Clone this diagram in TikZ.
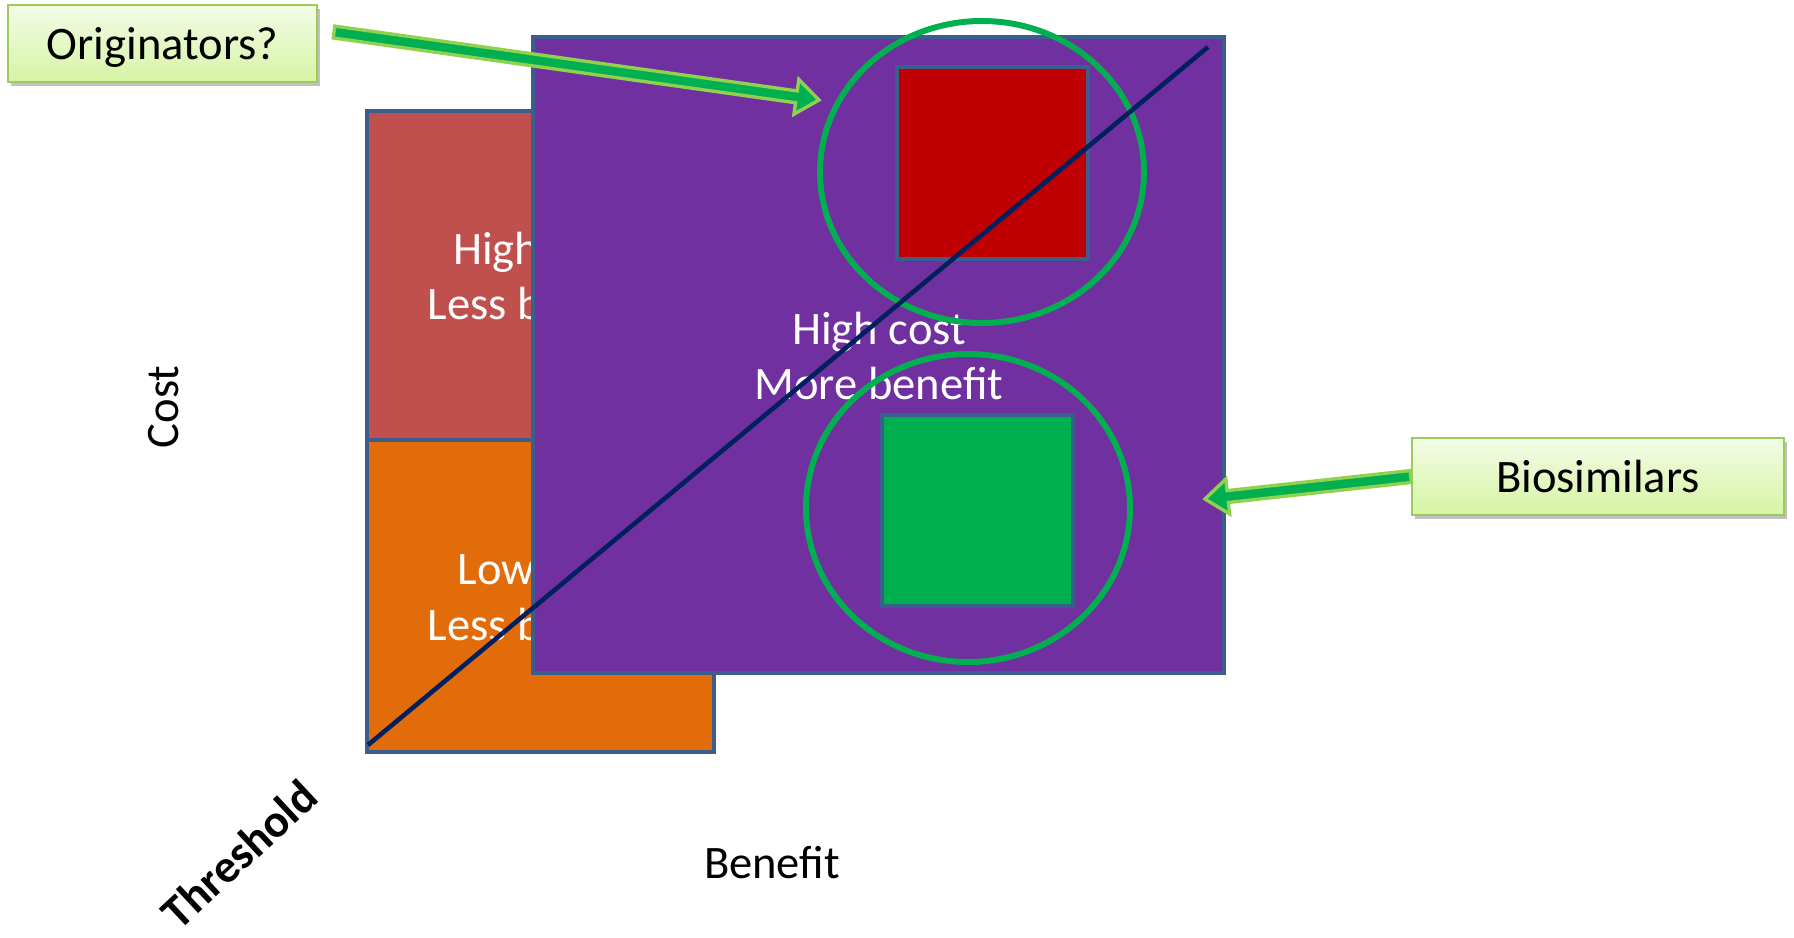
\documentclass[tikz,border=0pt]{standalone}
\usepackage{fontspec}
\setmainfont{Carlito}
\usetikzlibrary{calc,shadows}
\definecolor{boxedge}{HTML}{3B5E8C}
\definecolor{redbox}{HTML}{C0504D}
\definecolor{orangebox}{HTML}{E36C0A}
\definecolor{purplebox}{HTML}{7030A0}
\definecolor{redsq}{HTML}{C00000}
\definecolor{greensq}{HTML}{00B050}
\definecolor{ringgreen}{HTML}{00B050}
\definecolor{navy}{HTML}{002060}
\definecolor{calltop}{HTML}{F2FCE6}
\definecolor{callbot}{HTML}{D6F4A4}
\definecolor{calledge}{HTML}{9CCB5C}
\definecolor{arrowedge}{HTML}{92D050}
\definecolor{arrowfill}{HTML}{00B050}
\tikzset{
  region/.style={draw=boxedge, line width=2.6pt},
  bigtext/.style={font=\fontsize{26.5}{31.8}\selectfont, align=center},
  callout/.style={draw=calledge, line width=1.4pt, top color=calltop, bottom color=callbot,
    drop shadow={shadow xshift=1.5pt, shadow yshift=-2pt, opacity=0.35, fill=black!70},
    font=\fontsize{26.5}{31.8}\selectfont, inner sep=0pt},
  ring/.style={draw=ringgreen, line width=3.4pt},
  square/.style={draw=boxedge, line width=2.2pt},
  arrowstyle/.style={draw=arrowedge, fill=arrowfill, line width=1.9pt, line join=miter},
}
\newcommand{\blockarrow}[2]{%
  \coordinate (ba-h) at ($(#2)!13pt!(#1)$);
  \draw[arrowstyle] ($(#1)!3.4pt!90:(#2)$) -- ($(ba-h)!3.4pt!90:(#2)$) -- ($(ba-h)!10pt!90:(#2)$) -- (#2) -- ($(ba-h)!10pt!-90:(#2)$) -- ($(ba-h)!3.4pt!-90:(#2)$) -- ($(#1)!3.4pt!-90:(#2)$) -- cycle;
}
\begin{document}
\begin{tikzpicture}[x=0.02cm, y=-0.02cm]
\useasboundingbox (0,0) rectangle (1794,937);
% left boxes
\draw[region, fill=redbox] (367,111) rectangle (714,440);
\node[bigtext, text=white] (redtxt) at (540,276) {High cost\\Less benefit};
\draw[region, fill=orangebox] (367,440) rectangle (714,752);
\node[bigtext, text=white] (orangetxt) at (540,598) {Low cost\\Less benefit};
\coordinate (origin) at (368,745);
% purple
\draw[region, fill=purplebox] (533,37) rectangle (1224,673);
\node[bigtext, text=white] (purpletxt) at (879,356) {High cost\\More benefit};
% squares
\draw[square, fill=redsq] (897,67) rectangle (1088,259);
\draw[square, fill=greensq] (882,415) rectangle (1073,606);
% rings
\draw[ring] (982,172) ellipse [x radius=162, y radius=151];
\draw[ring] (968,508) ellipse [x radius=162, y radius=154];
% threshold line
\coordinate (lineend) at (1208,47);
\draw[navy, line width=2.6pt] (origin) -- (lineend);
% callouts
\node[callout, minimum width=309*0.02cm, minimum height=77*0.02cm] (orig) at (162.5,43.5) {\raisebox{-2pt}[\height][\depth]{Originators?}};
\node[callout, minimum width=372*0.02cm, minimum height=77*0.02cm] (bios) at (1598,476.5) {Biosimilars};
\coordinate (origstart) at (334,32);
\coordinate (origtip) at (819,100);
\blockarrow{origstart}{origtip}
\coordinate (biostip) at (1205,499);
\blockarrow{bios.west}{biostip}
% axis labels
\node[bigtext, rotate=90] (cost) at (164,407) {Cost};
\node[bigtext] (benefit) at (772,863) {Benefit};
\node[bigtext, font=\fontsize{26.5}{31.8}\selectfont\bfseries, rotate=43] (thresh) at (239,854) {Threshold};
\end{tikzpicture}
\end{document}
